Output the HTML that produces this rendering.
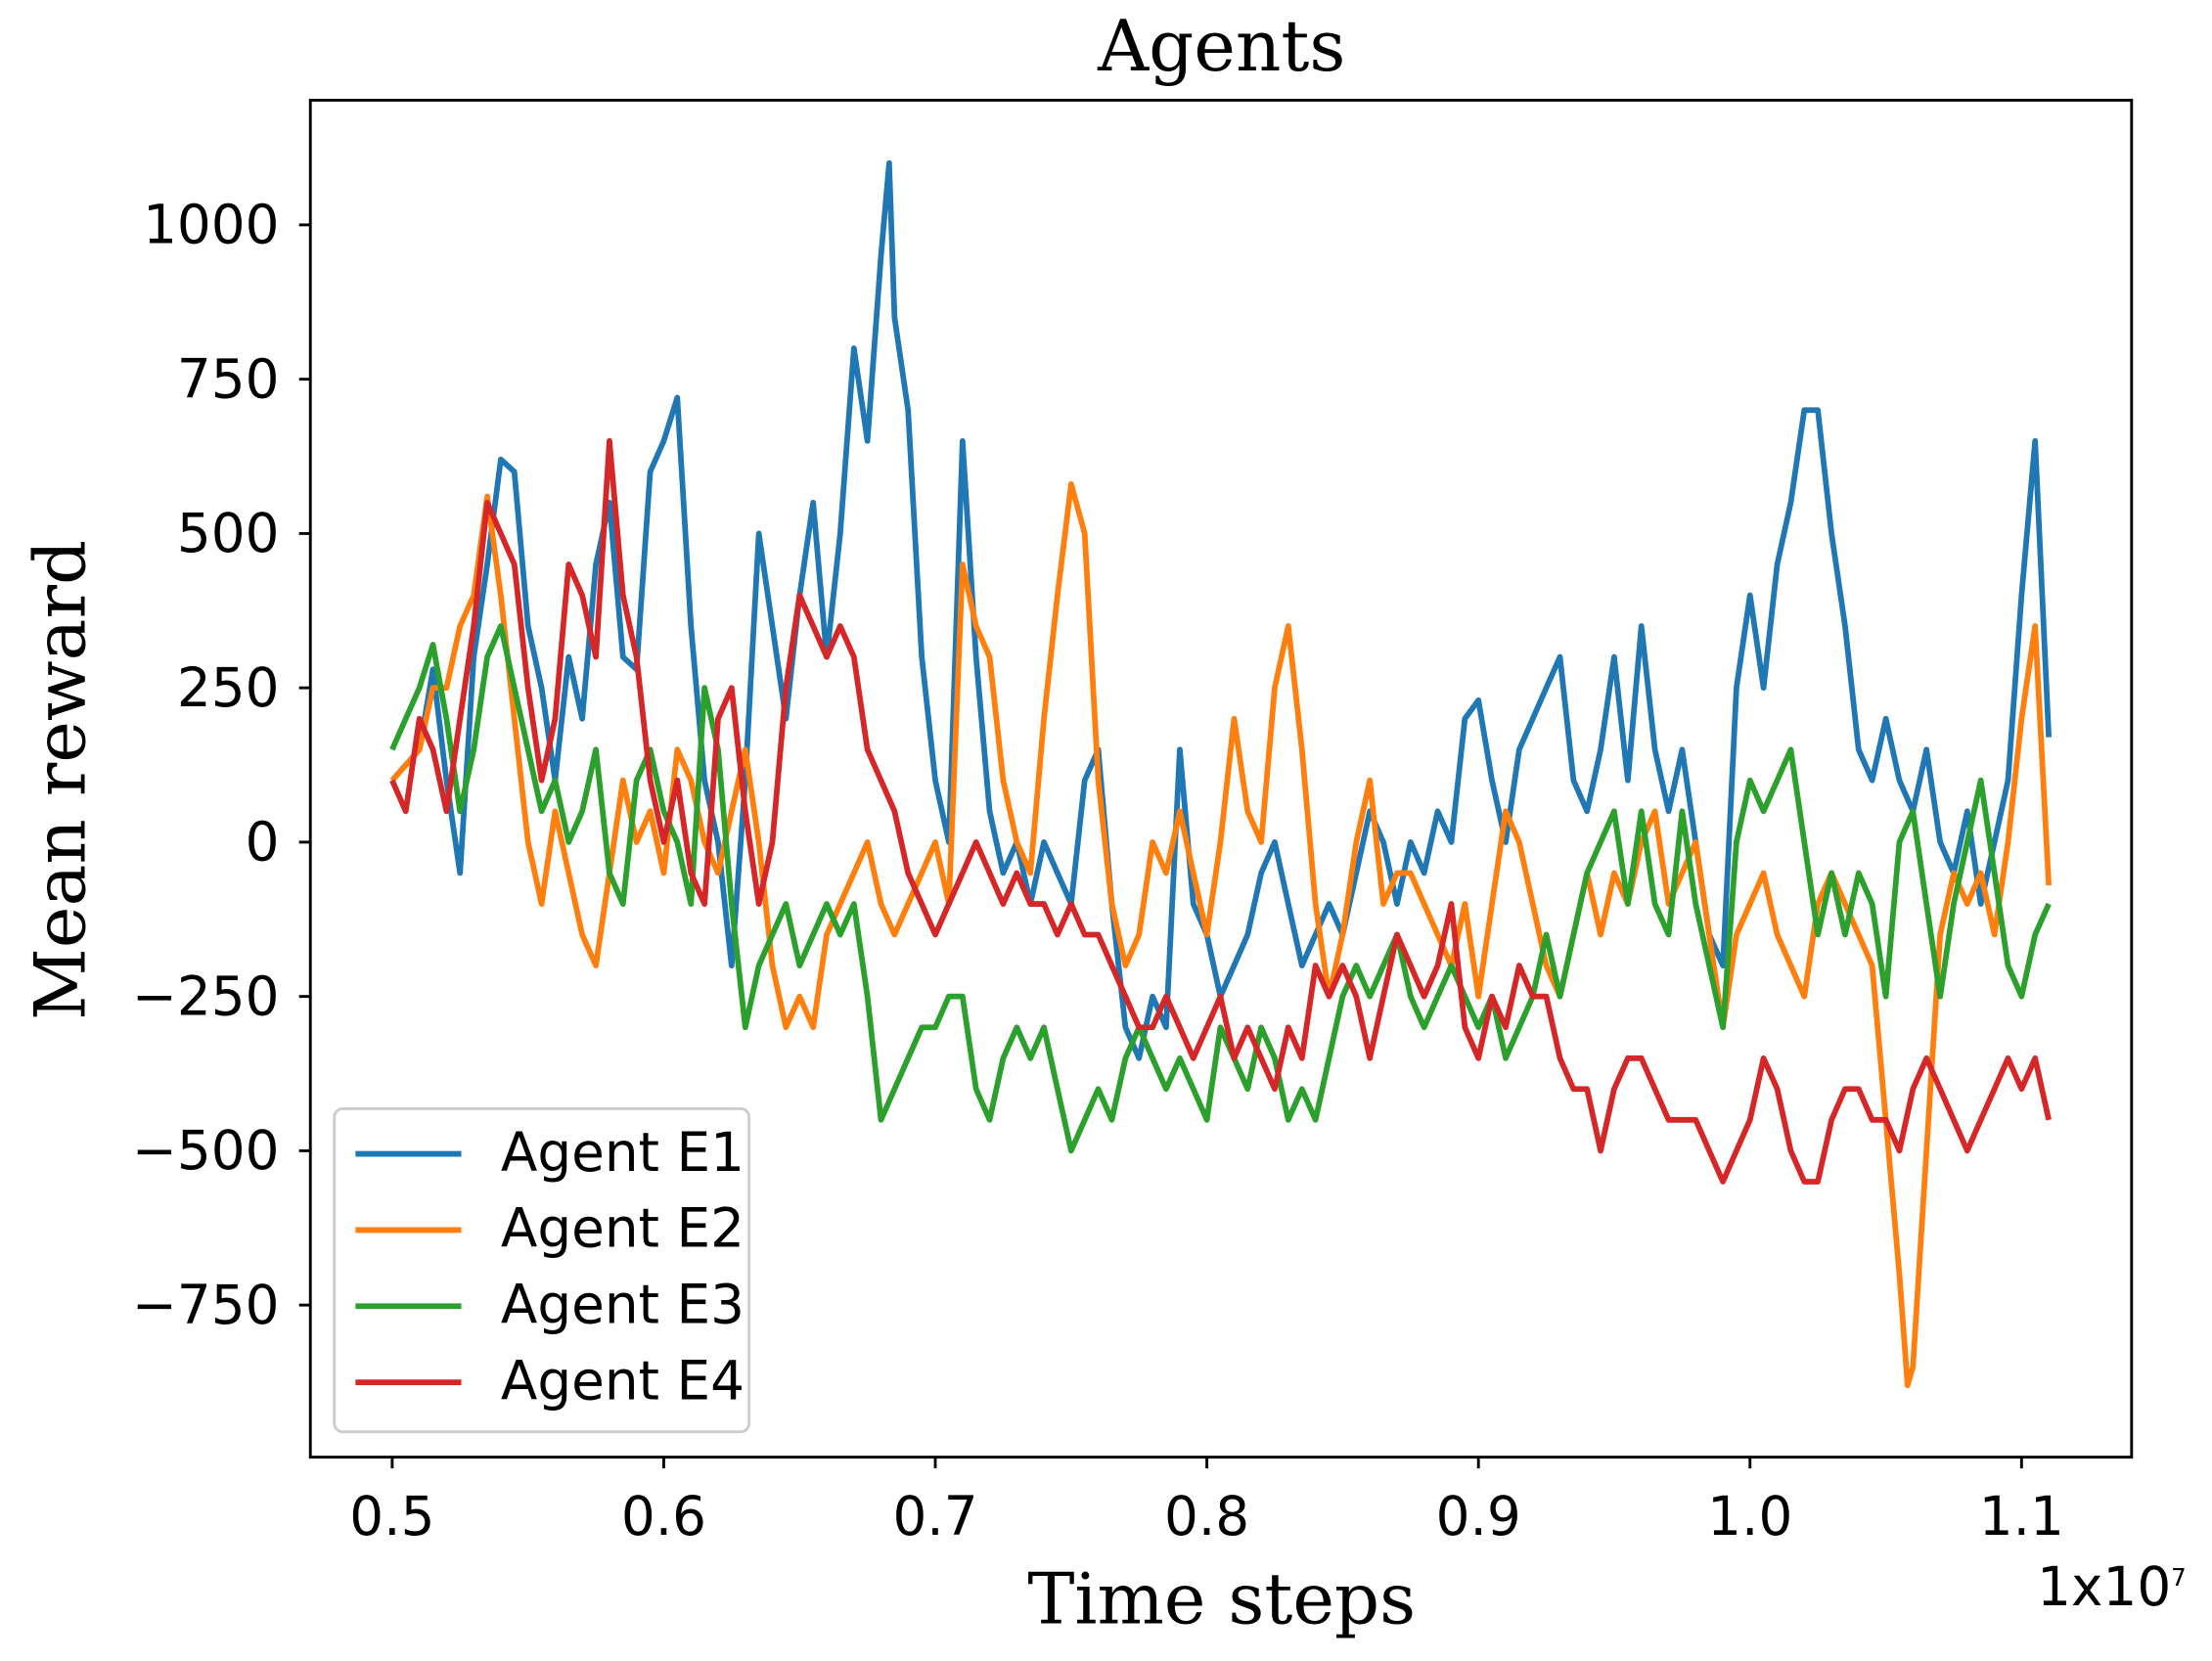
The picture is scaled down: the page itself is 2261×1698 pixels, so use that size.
<!DOCTYPE html>
<html><head><meta charset="utf-8"><style>
html,body{margin:0;padding:0;background:#fff;}
svg{display:block;}
.tick{font-family:"DejaVu Sans","Liberation Sans",sans-serif;font-size:38px;fill:#000;}
.ser{font-family:"DejaVu Serif","Liberation Serif",serif;fill:#000;}
</style></head><body>
<svg id="chart" width="2261" height="1698" viewBox="0 0 1568 1177.5" xmlns="http://www.w3.org/2000/svg">
<rect width="1568" height="1177.5" fill="#fff"/>
<text class="ser" x="866" y="50" font-size="50" text-anchor="middle">Agents</text>
<g id="plot"></g>
<g id="axes"></g>
<rect x="220" y="71" width="1291" height="962" fill="none" stroke="#000" stroke-width="2"/>
<text class="ser" x="866" y="1151" font-size="50" text-anchor="middle">Time steps</text>
<text class="ser" transform="translate(60,553) rotate(-90)" font-size="50" text-anchor="middle">Mean reward</text>
<text class="tick" x="1444" y="1138" font-size="26">1x10<tspan font-size="17" dy="-14">7</tspan></text>
<g id="legend">
<rect x="237" y="786" width="294" height="229" rx="6" fill="#fff" fill-opacity="0.85" stroke="#ccc" stroke-width="2"/>
</g>
</svg>
<script>
const xTicks=[0.5,0.6,0.7,0.8,0.9,1.0,1.1];
const xTickLabels=["0.5","0.6","0.7","0.8","0.9","1.0","1.1"];
const yTicks=[1000,750,500,250,0,-250,-500,-750];
const yTickLabels=["1000","750","500","250","0","\u2212250","\u2212500","\u2212750"];
const seriesNames=["Agent E1","Agent E2","Agent E3","Agent E4"];
const seriesColors=["#1f77b4","#ff7f0e","#2ca02c","#d62728"];
const e1X=[0.50,0.51,0.515,0.52,0.525,0.53,0.535,0.54,0.545,0.55,0.555,0.56,0.565,0.57,0.575,0.58,0.585,0.59,0.595,0.60,0.605,0.61,0.615,0.62,0.625,0.63,0.635,0.64,0.645,0.65,0.655,0.66,0.665,0.67,0.675,0.68,0.683,0.685,0.69,0.695,0.70,0.705,0.71,0.715,0.72,0.725,0.73,0.735,0.74,0.745,0.75,0.755,0.76,0.765,0.77,0.775,0.78,0.785,0.79,0.795,0.80,0.805,0.81,0.815,0.82,0.825,0.83,0.835,0.84,0.845,0.85,0.855,0.86,0.865,0.87,0.875,0.88,0.885,0.89,0.895,0.90,0.905,0.91,0.915,0.92,0.925,0.93,0.935,0.94,0.945,0.95,0.955,0.96,0.965,0.97,0.975,0.98,0.985,0.99,0.995,1.0,1.005,1.01,1.015,1.02,1.025,1.03,1.035,1.04,1.045,1.05,1.055,1.06,1.065,1.07,1.075,1.08,1.085,1.09,1.095,1.10,1.105,1.11];
const e1Y=[100,150,280,100,-50,300,450,620,600,350,250,100,300,200,450,550,300,280,600,650,720,350,100,0,-200,100,500,350,200,400,550,300,500,800,650,950,1100,850,700,300,100,0,650,300,50,-50,0,-100,0,-50,-100,100,150,-100,-300,-350,-250,-300,150,-100,-150,-250,-200,-150,-50,0,-100,-200,-150,-100,-150,-50,50,0,-100,0,-50,50,0,200,230,100,0,150,200,250,300,100,50,150,300,100,350,150,50,150,0,-150,-200,250,400,250,450,550,700,700,500,350,150,100,200,100,50,150,0,-50,50,-100,0,100,400,650,170];
const e2X=[0.50,0.51,0.515,0.52,0.525,0.53,0.535,0.54,0.545,0.55,0.555,0.56,0.565,0.57,0.575,0.58,0.585,0.59,0.595,0.60,0.605,0.61,0.615,0.62,0.625,0.63,0.635,0.64,0.645,0.65,0.655,0.66,0.665,0.67,0.675,0.68,0.685,0.69,0.695,0.70,0.705,0.71,0.715,0.72,0.725,0.73,0.735,0.74,0.745,0.75,0.755,0.76,0.765,0.77,0.775,0.78,0.785,0.79,0.795,0.80,0.805,0.81,0.815,0.82,0.825,0.83,0.835,0.84,0.845,0.85,0.855,0.86,0.865,0.87,0.875,0.88,0.885,0.89,0.895,0.90,0.905,0.91,0.915,0.92,0.925,0.93,0.935,0.94,0.945,0.95,0.955,0.96,0.965,0.97,0.975,0.98,0.985,0.99,0.995,1.0,1.005,1.01,1.015,1.02,1.025,1.03,1.035,1.04,1.045,1.05,1.055,1.058,1.06,1.065,1.07,1.075,1.08,1.085,1.09,1.095,1.10,1.105,1.11];
const e2Y=[100,150,250,250,350,400,560,400,200,0,-100,50,-50,-150,-200,-50,100,0,50,-50,150,100,0,-50,50,150,0,-200,-300,-250,-300,-150,-100,-50,0,-100,-150,-100,-50,0,-100,450,350,300,100,0,-50,200,400,580,500,100,-100,-200,-150,0,-50,50,-50,-150,0,200,50,0,250,350,150,-100,-250,-150,0,100,-100,-50,-50,-100,-150,-200,-100,-250,-100,50,0,-100,-200,-250,-150,-50,-150,-50,-100,0,50,-100,-50,0,-150,-300,-150,-100,-50,-150,-200,-250,-100,-50,-100,-150,-200,-450,-700,-880,-850,-500,-150,-50,-100,-50,-150,0,200,350,-70];
const e3X=[0.50,0.505,0.51,0.515,0.52,0.525,0.53,0.535,0.54,0.545,0.55,0.555,0.56,0.565,0.57,0.575,0.58,0.585,0.59,0.595,0.60,0.605,0.61,0.615,0.62,0.625,0.63,0.635,0.64,0.645,0.65,0.655,0.66,0.665,0.67,0.675,0.68,0.685,0.69,0.695,0.70,0.705,0.71,0.715,0.72,0.725,0.73,0.735,0.74,0.745,0.75,0.755,0.76,0.765,0.77,0.775,0.78,0.785,0.79,0.795,0.80,0.805,0.81,0.815,0.82,0.825,0.83,0.835,0.84,0.845,0.85,0.855,0.86,0.865,0.87,0.875,0.88,0.885,0.89,0.895,0.90,0.905,0.91,0.915,0.92,0.925,0.93,0.935,0.94,0.945,0.95,0.955,0.96,0.965,0.97,0.975,0.98,0.985,0.99,0.995,1.0,1.005,1.01,1.015,1.02,1.025,1.03,1.035,1.04,1.045,1.05,1.055,1.06,1.065,1.07,1.075,1.08,1.085,1.09,1.095,1.10,1.105,1.11];
const e3Y=[150,200,250,320,200,50,150,300,350,250,150,50,100,0,50,150,-50,-100,100,150,50,0,-100,250,150,-100,-300,-200,-150,-100,-200,-150,-100,-150,-100,-250,-450,-400,-350,-300,-300,-250,-250,-400,-450,-350,-300,-350,-300,-400,-500,-450,-400,-450,-350,-300,-350,-400,-350,-400,-450,-300,-350,-400,-300,-350,-450,-400,-450,-350,-250,-200,-250,-200,-150,-250,-300,-250,-200,-250,-300,-250,-350,-300,-250,-150,-250,-150,-50,0,50,-100,50,-100,-150,50,-100,-200,-300,0,100,50,100,150,0,-150,-50,-150,-50,-100,-250,0,50,-100,-250,-100,0,100,-50,-200,-250,-150,-100];
const e4X=e3X.slice();
const e4Y=[100,50,200,150,50,200,350,550,500,450,250,100,200,450,400,300,650,400,300,100,0,100,-50,-100,200,250,50,-100,0,250,400,350,300,350,300,150,100,50,-50,-100,-150,-100,-50,0,-50,-100,-50,-100,-100,-150,-100,-150,-150,-200,-250,-300,-300,-250,-300,-350,-300,-250,-350,-300,-350,-400,-300,-350,-200,-250,-200,-250,-350,-250,-150,-200,-250,-200,-100,-300,-350,-250,-300,-200,-250,-250,-350,-400,-400,-500,-400,-350,-350,-400,-450,-450,-450,-500,-550,-500,-450,-350,-400,-500,-550,-550,-450,-400,-400,-450,-450,-500,-400,-350,-400,-450,-500,-450,-400,-350,-400,-350,-450];

const NS="http://www.w3.org/2000/svg";
const X0=220,X1=1511,Y0=71,Y1=1033;
function xs(v){return 278+(v-0.5)/0.1*192.5;}
function ys(v){return 597-v/250*109.4;}
const plot=document.getElementById('plot');
const axes=document.getElementById('axes');
const allX=[e1X,e2X,e3X,e4X], allY=[e1Y,e2Y,e3Y,e4Y];
const clip=document.createElementNS(NS,'clipPath');clip.id='cp';
const cr=document.createElementNS(NS,'rect');cr.setAttribute('x',X0);cr.setAttribute('y',Y0);cr.setAttribute('width',X1-X0);cr.setAttribute('height',Y1-Y0);
clip.appendChild(cr);plot.appendChild(clip);
plot.setAttribute('clip-path','url(#cp)');
for(let s=0;s<4;s++){
  const p=document.createElementNS(NS,'polyline');
  p.setAttribute('points',allX[s].map((x,i)=>xs(x).toFixed(1)+','+ys(allY[s][i]).toFixed(1)).join(' '));
  p.setAttribute('fill','none');p.setAttribute('stroke',seriesColors[s]);p.setAttribute('stroke-width','4');p.setAttribute('stroke-linejoin','round');
  
  
  plot.appendChild(p);
}
xTicks.forEach((v,i)=>{
  const x=xs(v);
  const l=document.createElementNS(NS,'line');
  l.setAttribute('x1',x);l.setAttribute('x2',x);l.setAttribute('y1',Y1);l.setAttribute('y2',Y1+8);l.setAttribute('stroke','#000');l.setAttribute('stroke-width','2');
  
  
  axes.appendChild(l);
  const t=document.createElementNS(NS,'text');
  t.setAttribute('class','tick');t.setAttribute('x',x);t.setAttribute('y',Y1+55);t.setAttribute('text-anchor','middle');t.textContent=xTickLabels[i];
  
  
  axes.appendChild(t);
});
yTicks.forEach((v,i)=>{
  const y=ys(v);
  const l=document.createElementNS(NS,'line');
  l.setAttribute('x1',X0-8);l.setAttribute('x2',X0);l.setAttribute('y1',y);l.setAttribute('y2',y);l.setAttribute('stroke','#000');l.setAttribute('stroke-width','2');
  
  
  axes.appendChild(l);
  const t=document.createElementNS(NS,'text');
  t.setAttribute('class','tick');t.setAttribute('x',X0-22);t.setAttribute('y',y+13);t.setAttribute('text-anchor','end');t.textContent=yTickLabels[i];
  
  
  axes.appendChild(t);
});
const leg=document.getElementById('legend');
seriesNames.forEach((n,i)=>{
  const y=818+i*54;
  const g=document.createElementNS(NS,'g');
  
  
  const l=document.createElementNS(NS,'line');
  l.setAttribute('x1',252);l.setAttribute('x2',327);l.setAttribute('y1',y);l.setAttribute('y2',y);l.setAttribute('stroke',seriesColors[i]);l.setAttribute('stroke-width','4');
  g.appendChild(l);
  const t=document.createElementNS(NS,'text');
  t.setAttribute('class','tick');t.setAttribute('x',355);t.setAttribute('y',y+12);t.setAttribute('font-size','34');t.textContent=n;
  g.appendChild(t);
  leg.appendChild(g);
});
</script>
</body></html>
